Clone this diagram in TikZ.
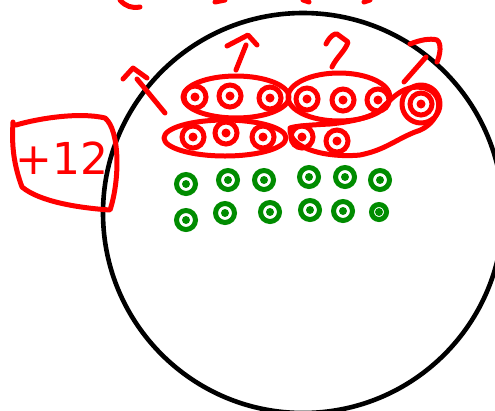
\documentclass[tikz,border=0pt]{standalone}
\usepackage{fontspec}
\setmainfont{DejaVu Sans}
\usetikzlibrary{shapes.geometric}
\begin{document}
\begin{tikzpicture}[x=1pt,y=-1pt,
  redline/.style={draw=red,line width=5pt,line cap=round,line join=round},
  reddot/.style={circle,draw=red,line width=5pt,minimum size=22pt,inner sep=0pt,
    path picture={\fill[red] (path picture bounding box.center) circle (4.5pt);}},
  greendot/.style={circle,draw=green!55!black,line width=5pt,minimum size=19pt,inner sep=0pt,
    path picture={\fill[green!55!black] (path picture bounding box.center) circle (4pt);}},
  bigcircle/.style={draw=black,line width=4.6pt}]
\useasboundingbox (0,0) rectangle (495,410);
% world circle
\node[circle,bigcircle,minimum size=400pt,inner sep=0pt] (world) at (303,213) {};
% top cut strokes
\coordinate (t1a) at (120,0); \coordinate (t1b) at (140,7);
\draw[redline] (t1a) to[bend right=30] (t1b);
\coordinate (t2a) at (215,2); \coordinate (t2b) at (225,0);
\draw[redline] (t2a) -- (t2b);
\coordinate (t3a) at (303,0); \coordinate (t3b) at (309,2);
\draw[redline] (t3a) -- (t3b);
\coordinate (t4a) at (364,2); \coordinate (t4b) at (370,0);
\draw[redline] (t4a) -- (t4b);
% +12 box
\node[text=red,font=\fontsize{44}{44}\selectfont] (lbl) at (62,158) {+12};
\coordinate (b1) at (13,122);
\draw[redline] (16,125) .. controls (40,118) and (80,112) .. (105,118)
  .. controls (120,130) and (120,180) .. (110,210)
  .. controls (80,208) and (40,202) .. (22,187)
  .. controls (12,160) and (12,140) .. (b1);
% red dots
\node[reddot] (r1) at (195,97) {};
\node[reddot] (r2) at (230,96) {};
\node[reddot] (r3) at (270,98) {};
\node[reddot] (r4) at (307,99) {};
\node[reddot] (r5) at (343,100) {};
\node[reddot] (r6) at (378,100) {};
\node[reddot] (r7) at (193,137) {};
\node[reddot] (r8) at (226,133) {};
\node[reddot] (r9) at (263,137) {};
\node[reddot] (r10) at (302,137) {};
\node[reddot] (r11) at (337,141) {};
\node[reddot] (r12) at (421,104) {};
% group ellipses
\node[ellipse,redline,minimum width=106pt,minimum height=42pt] (g1) at (236,97) {};
\node[ellipse,redline,minimum width=102pt,minimum height=48pt] (g2) at (339,97) {};
\node[ellipse,redline,minimum width=122pt,minimum height=36pt] (g3) at (225,138) {};
\node[circle,redline,minimum size=38pt] (g5) at (421,104) {};
\coordinate (bs) at (290,128);
\draw[redline] (bs) .. controls (288,150) and (330,158) .. (360,155)
  .. controls (385,150) and (395,140) .. (415,132)
  .. controls (440,125) and (448,95) .. (425,88)
  .. controls (405,84) and (395,95) .. (380,110)
  .. controls (370,118) and (350,122) .. (330,124)
  .. controls (310,125) and (295,126) .. (bs);
% hooks / arrows
\coordinate (h1a) at (123,79); \coordinate (h1b) at (133,68); \coordinate (h1c) at (147,78);
\coordinate (h1d) at (137,79); \coordinate (h1e) at (165,113);
\draw[redline] (h1a) -- (h1b) -- (h1c); \draw[redline] (h1d) -- (h1e);
\coordinate (h2a) at (227,46); \coordinate (h2b) at (248,35); \coordinate (h2c) at (257,45);
\coordinate (h2d) at (246,45); \coordinate (h2e) at (236,70);
\draw[redline] (h2a) -- (h2b) -- (h2c); \draw[redline] (h2d) -- (h2e);
\coordinate (h3a) at (326,44); \coordinate (h3b) at (337,34); \coordinate (h3c) at (348,42);
\coordinate (h3d) at (332,67);
\draw[redline] (h3a) .. controls (330,36) and (335,33) .. (h3b) -- (h3c) .. controls (346,50) and (336,58) .. (h3d);
\coordinate (h4a) at (410,44); \coordinate (h4b) at (437,40); \coordinate (h4c) at (437,62);
\coordinate (h4d) at (426,57); \coordinate (h4e) at (404,82);
\draw[redline] (h4a) .. controls (420,40) and (430,38) .. (h4b) .. controls (442,44) and (440,55) .. (h4c);
\draw[redline] (h4d) -- (h4e);
% green dots
\node[greendot] (q1) at (186,184) {};
\node[greendot] (q2) at (228,180) {};
\node[greendot] (q3) at (264,180) {};
\node[greendot] (q4) at (309,177) {};
\node[greendot] (q5) at (345,177) {};
\node[greendot] (q6) at (380,180) {};
\node[greendot] (q7) at (186,220) {};
\node[greendot] (q8) at (225,213) {};
\node[greendot] (q9) at (270,212) {};
\node[greendot] (q10) at (310,210) {};
\node[greendot] (q11) at (343,211) {};
\node[greendot,minimum size=15pt] (q12) at (379,212) {};
\end{tikzpicture}
\end{document}
